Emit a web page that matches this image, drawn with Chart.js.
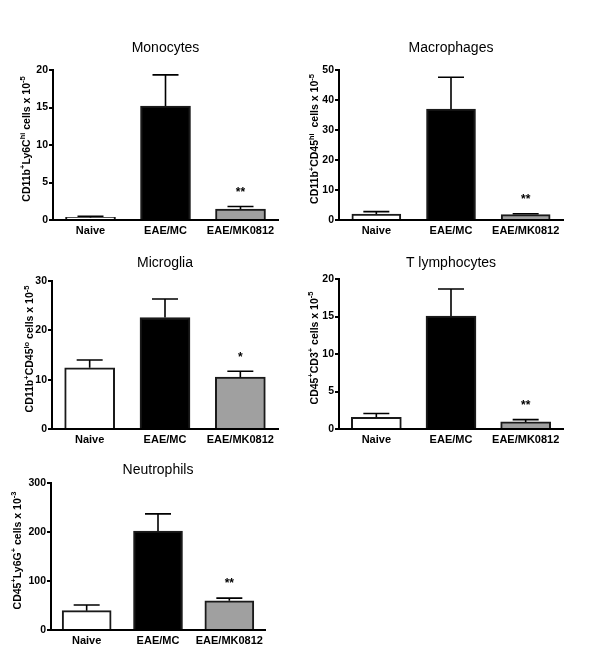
<!DOCTYPE html>
<html>
<head>
<meta charset="utf-8">
<script src="https://cdn.jsdelivr.net/npm/chart.js@4.4.1/dist/chart.umd.min.js"></script>
<style>
html,body{margin:0;padding:0;background:#fff;width:600px;height:672px;overflow:hidden;}
canvas{position:absolute;}
</style>
</head>
<body>
<canvas id="c1"></canvas>
<canvas id="c2"></canvas>
<canvas id="c3"></canvas>
<canvas id="c4"></canvas>
<canvas id="c5"></canvas>
<script>
// ---------- data ----------
const categories = ['Naive', 'EAE/MC', 'EAE/MK0812'];

const monocyteMean = [0.35, 15.2, 1.45];
const monocyteSem  = [0.15, 4.15, 0.35];
const monocyteSig  = ['', '', '**'];

const macrophageMean = [2.0, 37.0, 1.8];
const macrophageSem  = [0.8, 10.6, 0.3];
const macrophageSig  = ['', '', '**'];

const microgliaMean = [12.4, 22.6, 10.5];
const microgliaSem  = [1.6, 3.75, 1.2];
const microgliaSig  = ['', '', '*'];

const tcellMean = [1.56, 15.06, 0.94];
const tcellSem  = [0.5, 3.6, 0.31];
const tcellSig  = ['', '', '**'];

const neutrophilMean = [39.5, 202, 59.5];
const neutrophilSem  = [11.5, 35, 5.5];
const neutrophilSig  = ['', '', '**'];

const monocyteTicks   = [0, 20, 5];
const macrophageTicks = [0, 50, 10];
const microgliaTicks  = [0, 30, 10];
const tcellTicks      = [0, 20, 5];
const neutrophilTicks = [0, 300, 100];

// y-axis titles as [text, isSuperscript] segments
const monocyteYTitle   = [['CD11b',0],['+',1],['Ly6C',0],['hi',1],[' cells x 10',0],['-5',1]];
const macrophageYTitle = [['CD11b',0],['+',1],['CD45',0],['hi',1],['  cells x 10',0],['-5',1]];
const microgliaYTitle  = [['CD11b',0],['+',1],['CD45',0],['lo',1],[' cells x 10',0],['-5',1]];
const tcellYTitle      = [['CD45',0],['+',1],['CD3',0],['+',1],[' cells x 10',0],['-5',1]];
const neutrophilYTitle = [['CD45',0],['+',1],['Ly6G',0],['+',1],[' cells x 10',0],['-3',1]];

// ---------- styling / layout ----------
const FONT = "'Liberation Sans', Arial, Helvetica, sans-serif";
const barFill = ['#ffffff', '#000000', '#a0a0a0'];
const X_H = 20;
const TITLE_SIZE = 14;
const YT_SIZE = 10.5;
const YT_SUP = 7.5;

const panels = [
  {id:'c1', title:'Monocytes', yTitle:monocyteYTitle,
   mean:monocyteMean, sem:monocyteSem, sig:monocyteSig, ticks:monocyteTicks,
   box:[0,25,300,220], area:[53,278,70,220], titleY:48, yTitleX:26, bw:50},
  {id:'c2', title:'Macrophages', yTitle:macrophageYTitle,
   mean:macrophageMean, sem:macrophageSem, sig:macrophageSig, ticks:macrophageTicks,
   box:[300,25,300,220], area:[339,563,70,220], titleY:48, yTitleX:314.5, bw:49},
  {id:'c3', title:'Microglia', yTitle:microgliaYTitle,
   mean:microgliaMean, sem:microgliaSem, sig:microgliaSig, ticks:microgliaTicks,
   box:[0,245,300,205], area:[52,278,281,429], titleY:263, yTitleX:29.5, bw:50},
  {id:'c4', title:'T lymphocytes', yTitle:tcellYTitle,
   mean:tcellMean, sem:tcellSem, sig:tcellSig, ticks:tcellTicks,
   box:[300,245,300,205], area:[339,563,279,429], titleY:263, yTitleX:314, bw:50},
  {id:'c5', title:'Neutrophils', yTitle:neutrophilYTitle,
   mean:neutrophilMean, sem:neutrophilSem, sig:neutrophilSig, ticks:neutrophilTicks,
   box:[0,450,300,222], area:[51,265,483,630], titleY:470, yTitleX:17, bw:49}
];

const errorBarPlugin = {
  id: 'errorBars',
  afterDatasetsDraw(chart) {
    const ctx = chart.ctx;
    const y = chart.scales.y;
    const ds = chart.data.datasets[0];
    const meta = chart.getDatasetMeta(0);
    ctx.save();
    ctx.strokeStyle = '#000';
    ctx.fillStyle = '#000';
    ctx.lineWidth = 1.6;
    ctx.font = 'bold 12px ' + FONT;
    ctx.textAlign = 'center';
    ctx.textBaseline = 'middle';
    meta.data.forEach((bar, i) => {
      const v = ds.data[i];
      const top = y.getPixelForValue(v + ds.sem[i]);
      ctx.beginPath();
      ctx.moveTo(bar.x, bar.y);
      ctx.lineTo(bar.x, top);
      ctx.moveTo(bar.x - 13, top);
      ctx.lineTo(bar.x + 13, top);
      ctx.stroke();
      if (ds.sig[i]) ctx.fillText(ds.sig[i], bar.x, top - 14);
    });
    ctx.restore();
  }
};

// draws the rotated y-axis title with true superscripts
const richYTitlePlugin = {
  id: 'richYTitle',
  afterDraw(chart, args, opts) {
    const segs = opts.segments;
    if (!segs) return;
    const ctx = chart.ctx;
    const ca = chart.chartArea;
    const fMain = 'bold ' + YT_SIZE + 'px ' + FONT;
    const fSup = 'bold ' + YT_SUP + 'px ' + FONT;
    ctx.save();
    let total = 0;
    const widths = segs.map(s => { ctx.font = s[1] ? fSup : fMain; const w = ctx.measureText(s[0]).width; total += w; return w; });
    const cx = opts.x;
    const cy = (ca.top + ca.bottom) / 2 - 6;
    ctx.translate(cx, cy);
    ctx.rotate(-Math.PI / 2);
    ctx.fillStyle = '#000';
    ctx.textAlign = 'left';
    ctx.textBaseline = 'alphabetic';
    const base = YT_SIZE * 0.716 / 2;
    let xPos = -total / 2;
    segs.forEach((s, i) => {
      ctx.font = s[1] ? fSup : fMain;
      ctx.fillText(s[0], xPos, s[1] ? base - 4.5 : base);
      xPos += widths[i];
    });
    ctx.restore();
  }
};

panels.forEach(p => {
  const [bl, bt, bw, bh] = p.box;
  const [al, ar, at, ab] = p.area;
  const cv = document.getElementById(p.id);
  cv.width = bw; cv.height = bh;
  cv.style.left = bl + 'px'; cv.style.top = bt + 'px';
  cv.style.width = bw + 'px'; cv.style.height = bh + 'px';

  const titleLH = TITLE_SIZE * 1.2;
  const scaleLeft = bl + 2;
  const yW = al - scaleLeft;
  const pad = {
    left: 2,
    right: bl + bw - ar,
    top: p.titleY - titleLH / 2 - bt,
    bottom: bt + bh - ab - X_H
  };
  const titleBottomPad = at - (p.titleY + titleLH / 2);

  new Chart(cv, {
    type: 'bar',
    data: {
      labels: categories,
      datasets: [{
        data: p.mean,
        sem: p.sem,
        sig: p.sig,
        backgroundColor: barFill,
        borderColor: '#1a1a1a',
        borderWidth: 2,
        borderSkipped: 'start',
        barThickness: p.bw
      }]
    },
    options: {
      responsive: false,
      animation: false,
      devicePixelRatio: 1,
      layout: { padding: pad },
      plugins: {
        legend: { display: false },
        tooltip: { enabled: false },
        title: {
          display: true,
          text: p.title,
          fullSize: false,
          color: '#000',
          font: { family: FONT, size: TITLE_SIZE, weight: 'normal', lineHeight: 1.2 },
          padding: { top: 0, bottom: titleBottomPad }
        },
        richYTitle: { segments: p.yTitle, x: p.yTitleX - bl }
      },
      scales: {
        x: {
          offset: true,
          grid: { display: false, drawTicks: false },
          border: { display: true, color: '#000', width: 2 },
          ticks: {
            color: '#000', padding: 4, maxRotation: 0, autoSkip: false,
            font: { family: FONT, size: 11, weight: 'bold' }
          },
          afterFit(s) { s.height = X_H; }
        },
        y: {
          min: p.ticks[0], max: p.ticks[1],
          ticks: {
            stepSize: p.ticks[2], color: '#000', padding: 1,
            font: { family: FONT, size: 10.5, weight: 'bold' }
          },
          grid: { display: true, drawOnChartArea: false, drawTicks: true, tickLength: 4, color: '#000', lineWidth: 2 },
          border: { display: true, color: '#000', width: 2 },
          title: { display: false },
          afterFit(s) { s.width = yW; }
        }
      }
    },
    plugins: [errorBarPlugin, richYTitlePlugin]
  });
});
</script>
</body>
</html>
